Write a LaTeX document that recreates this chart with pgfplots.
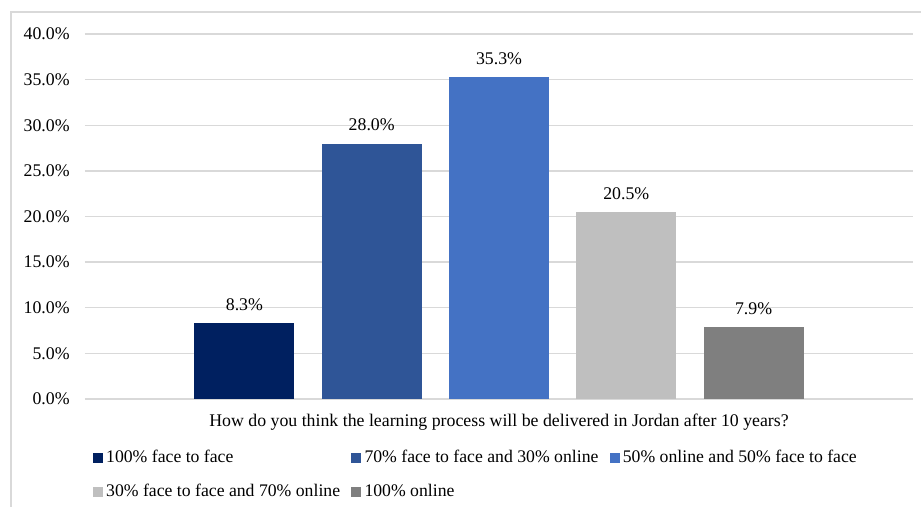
\documentclass[border=0pt]{standalone}
\usepackage{fontspec}
\setmainfont{Liberation Serif}
\usepackage{pgfplots}
\pgfplotsset{compat=1.18}
\definecolor{gridc}{HTML}{D9D9D9}
\definecolor{cA}{HTML}{002060}
\definecolor{cB}{HTML}{2F5597}
\definecolor{cC}{HTML}{4472C4}
\definecolor{cD}{HTML}{BFBFBF}
\definecolor{cE}{HTML}{7F7F7F}
\begin{document}
\begin{tikzpicture}
\begin{axis}[
  scale only axis,
  width=414pt, height=182.5pt,
  xmin=-0.252, xmax=6.252,
  ymin=0, ymax=40,
  ytick={0,5,...,40},
  xtick=\empty,
  ybar, bar width=0.7855, bar shift=0pt,
  axis line style={draw=none},
  ymajorgrids,
  major grid style={gridc, line width=0.7pt},
  tick style={draw=none},
  /pgf/number format/assume math mode=true,
  yticklabel={\pgfmathprintnumber[fixed,fixed zerofill,precision=1]{\tick}\%},
  yticklabel style={font=\fontsize{8.9}{10}\selectfont, anchor=east, inner xsep=0pt, xshift=-7.5pt},
  nodes near coords={\pgfmathprintnumber[fixed,fixed zerofill,precision=1]{\pgfplotspointmeta}\%},
  every node near coord/.append style={font=\fontsize{8.9}{10}\selectfont, anchor=base, yshift=6.25pt, inner sep=0pt, text=black},
  clip=false,
  legend columns=3,
  legend cell align=left,
  legend image code/.code={\fill[#1] (0pt,-2.5pt) rectangle (5pt,2.5pt);},
  legend style={at={(axis description cs:0.00966,-0.1397)}, anchor=north west,
    draw=none, fill=none, inner sep=0pt, outer sep=0pt,
    font=\fontsize{8.85}{10}\selectfont,
    nodes={inner xsep=1.6pt, inner ysep=0pt, text height=6.5pt, text depth=1.5pt},
    row sep=9pt,
    /tikz/every even column/.append style={column sep=4pt}},
]
\addplot[fill=cA, draw=none] coordinates {(1,8.3)};
\addplot[fill=cB, draw=none] coordinates {(2,28.0)};
\addplot[fill=cC, draw=none] coordinates {(3,35.3)};
\addplot[fill=cD, draw=none] coordinates {(4,20.5)};
\addplot[fill=cE, draw=none] coordinates {(5,7.9)};
\legend{100\% face to face, 70\% face to face and 30\% online, 50\% online and 50\% face to face, 30\% face to face and 70\% online, 100\% online}
\node[anchor=base, font=\fontsize{8.9}{10}\selectfont] at (rel axis cs:0.5,0) [yshift=-14pt] {How do you think the learning process will be delivered in Jordan after 10 years?};
\end{axis}
\draw[gridc, line width=0.6pt] (-37pt,-80pt) |- (450pt,193.5pt);
\pgfresetboundingbox
\useasboundingbox (-42.5pt,-54pt) rectangle (418pt,199.5pt);
\end{tikzpicture}
\end{document}
